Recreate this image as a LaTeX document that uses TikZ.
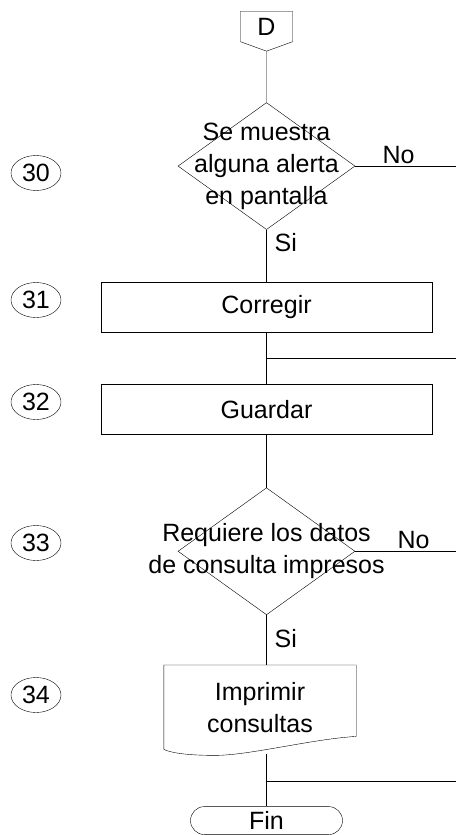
\documentclass[tikz,border=0pt]{standalone}
\usepackage{fontspec}
\setmainfont{Liberation Sans}
\usetikzlibrary{shapes.geometric, shapes.symbols, shapes.misc, positioning, calc}
\tikzset{
	line width=1pt,
	every node/.style={font=\fontsize{25}{32}\selectfont},
	proc/.style={draw, minimum width=331pt, minimum height=50pt},
	decision/.style={draw, diamond, minimum width=177pt, minimum height=127pt},
	offpage/.style={draw, signal, signal to=south, signal pointer angle=140, minimum width=52pt, minimum height=35pt},
	docum/.style={minimum width=192pt, minimum height=84pt, align=center},
	term/.style={draw, rounded rectangle, minimum width=154pt, minimum height=28pt, inner sep=1pt},
	numref/.style={draw, ellipse, minimum width=50pt, minimum height=35pt, inner sep=0pt},
	lbl/.style={inner sep=2pt},
}

\begin{document}
\begin{tikzpicture}[x=1pt, y=-1pt]
	\useasboundingbox (0,0) rectangle (456,835);
	\node[offpage, anchor=north] (D) at (266.5,11) {D};
	\node[decision, below=51pt of D, label={[align=center]center:Se muestra\\alguna alerta\\en pantalla}] (Q30) {};
	\node[proc, below=52pt of Q30] (C31) {Corregir};
	\node[proc, below=52pt of C31] (C32) {Guardar};
	\node[decision, below=53pt of C32, label={[align=center]center:Requiere los datos\\de consulta impresos}] (Q33) {};
	\node[docum, below=50pt of Q33, xshift=-6.5pt] (P34) {Imprimir\\consultas};
	\node[term, below=57pt of P34, xshift=6.5pt] (FIN) {Fin};

	% numeros de paso
	\node[numref] (n30) at (36,173) {30};
	\node[numref] (n31) at (36,300) {31};
	\node[numref] (n32) at (36,402) {32};
	\node[numref] (n33) at (36,543) {33};
	\node[numref] (n34) at (36,695) {34};

	% hoja impresa
	\draw (P34.south west) -- (P34.north west) -- (P34.north east) -- ($(P34.south east)+(0,-13)$)
		.. controls ($(P34.south west)+(146,-10)$) and ($(P34.south west)+(86,6)$) .. ($(P34.south west)+(51,6)$)
		.. controls ($(P34.south west)+(21,6)$) and ($(P34.south west)+(6,3)$) .. (P34.south west);

	\coordinate (e0) at (456,0);
	\coordinate (j1) at ($(C31.south)!0.5!(C32.north)$);
	\coordinate (j2) at (266.5,781);
	\coordinate (p0) at ($(Q33.south |- P34.south)+(0,5)$);

	\draw (D) -- (Q30);
	\draw (Q30) -- node[lbl, pos=0.25, right=6pt]{Si} (C31);
	\draw (Q30.east) -- node[lbl, pos=0.43, above]{No} (Q30.east -| e0);
	\draw (C31) -- (C32);
	\draw (j1) -- (j1 -| e0);
	\draw (C32) -- (Q33);
	\draw (Q33) -- node[lbl, pos=0.48, right=6pt]{Si} (Q33.south |- P34.north);
	\draw (Q33.east) -- node[lbl, pos=0.58, above]{No} (Q33.east -| e0);
	\draw (p0) -- (p0 |- FIN.north);
	\draw (j2) -- (j2 -| e0);
\end{tikzpicture}
\end{document}
